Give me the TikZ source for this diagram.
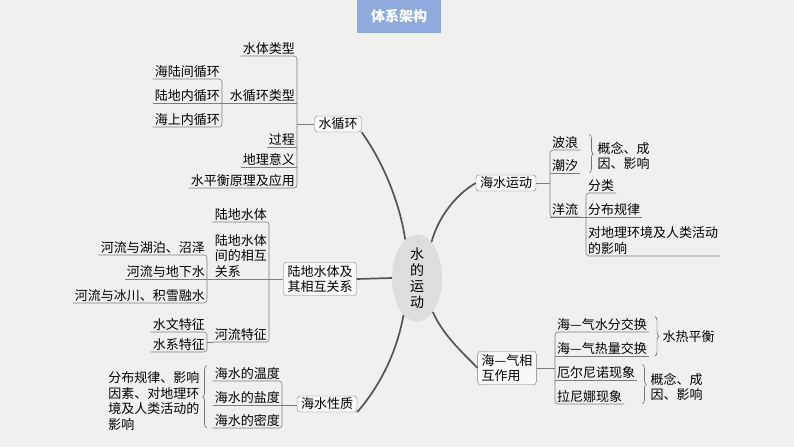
\documentclass[tikz,border=0pt]{standalone}
\usepackage{fontspec}
\newfontfamily\cjk{Noto Sans CJK SC}
\usetikzlibrary{shapes.geometric,decorations.pathreplacing}
\definecolor{bgcol}{RGB}{240,240,238}
\definecolor{linecol}{RGB}{125,125,125}
\definecolor{trunkcol}{RGB}{85,85,85}
\definecolor{titlecol}{RGB}{143,170,220}
\definecolor{corecol}{RGB}{221,221,221}
\begin{document}
\begin{tikzpicture}[x=1pt,y=-1pt,
  every node/.style={font=\cjk\fontsize{13}{15.5}\selectfont},
  lt/.style={anchor=south east,inner xsep=2pt,inner ysep=1.5pt},
  rt/.style={anchor=south west,inner xsep=2pt,inner ysep=1.5pt},
  topic/.style={draw=linecol,fill=white!50!bgcol,rounded corners=3pt,inner xsep=4pt,inner ysep=2pt,align=left},
  link/.style={draw=linecol,line width=0.6pt},
  trunk/.style={draw=trunkcol,line width=1.7pt},
  curly/.style={draw=black!80,decorate,decoration={brace,amplitude=4pt}}]
\fill[bgcol] (0,0) rectangle (794,447);
\useasboundingbox (0,0) rectangle (794,447);
\node[fill=titlecol,text=white,minimum width=84pt,minimum height=33pt,font=\cjk\bfseries\fontsize{14}{16}\selectfont] (title) at (399,16.5) {体系架构};

\node[ellipse,fill=corecol,inner sep=0pt,minimum width=50pt,minimum height=87pt,align=center,font=\cjk\fontsize{14}{16}\selectfont] (core) at (417,278) {水\\的\\运\\动};
\node[topic] (wc) at (338,124) {水循环};
\node[topic,inner ysep=3pt] (ld) at (320,279) {陆地水体及\\其相互关系};
\node[topic] (hx) at (327,404) {海水性质};
\node[topic] (hy) at (506,183) {海水运动};
\node[topic,inner ysep=3pt] (hq) at (507,368) {海—气相\\互作用};
\draw[trunk] (wc.south east) .. controls (385,165) and (400,205) .. (core.107);
\draw[trunk] (ld.east) -- (core.west);
\draw[trunk] (hx.south east) .. controls (385,380) and (398,345) .. (core.250);
\draw[trunk] (hy.west) .. controls (455,195) and (438,218) .. (core.68);
\draw[trunk] (core.295) .. controls (443,335) and (462,352) .. (hq.west);

% 水循环
\node[lt] (wc1) at (297,56) {水体类型};
\node[lt] (wc2) at (297,103) {水循环类型};
\node[lt] (wc3) at (297,147) {过程};
\node[lt] (wc4) at (297,167) {地理意义};
\node[lt] (wc5) at (297,188) {水平衡原理及应用};
\draw[link,rounded corners=3pt] (wc1.south west) -- (wc1.south east) -- (wc5.south east) -- (wc5.south west);
\draw[link] (wc3.south west) -- (wc3.south east);
\draw[link] (wc4.south west) -- (wc4.south east);
\draw[link] (wc.west) -- (wc.west -| wc1.south east);
\node[lt] (wc21) at (222,79) {海陆间循环};
\node[lt] (wc22) at (222,103) {陆地内循环};
\node[lt] (wc23) at (222,127) {海上内循环};
\draw[link,rounded corners=3pt] (wc21.south west) -- (wc21.south east) -- (wc23.south east) -- (wc23.south west);
\draw[link] (wc22.south west) -- (wc2.south east);

% 陆地水体
\node[lt] (ld1) at (269,222) {陆地水体};
\node[lt,align=left] (ld2) at (269,279) {陆地水体\\间的相互\\关系};
\node[lt] (ld3) at (269,342) {河流特征};
\draw[link,rounded corners=3pt] (ld1.south west) -- (ld1.south east) -- (ld3.south east) -- (ld3.south west);
\node[lt] (ld21) at (207,255) {河流与湖泊、沼泽};
\node[lt] (ld22) at (207,279) {河流与地下水};
\node[lt] (ld23) at (207,303) {河流与冰川、积雪融水};
\draw[link,rounded corners=3pt] (ld21.south west) -- (ld21.south east) -- (ld23.south east) -- (ld23.south west);
\draw[link] (ld22.south west) -- (ld.west);
\node[lt] (ld31) at (207,332) {水文特征};
\node[lt] (ld32) at (207,352) {水系特征};
\draw[link,rounded corners=3pt] (ld31.south west) -- (ld31.south east) -- (ld32.south east) -- (ld32.south west);
\draw[link] (ld31.south east |- ld3.south) -- (ld3.south west);

% 海水性质
\node[lt] (hx1) at (282,381) {海水的温度};
\node[lt] (hx2) at (282,405) {海水的盐度};
\node[lt] (hx3) at (282,428) {海水的密度};
\draw[link,rounded corners=3pt] (hx1.south west) -- (hx1.south east) -- (hx3.south east) -- (hx3.south west);
\draw[link] (hx2.south west) -- (hx.west |- hx2.south);
\draw[curly] ([xshift=-6pt]hx3.south west) -- ([xshift=-6pt]hx1.north west);
\node[anchor=east,align=left] (hxn) at (203,401) {分布规律、影响\\因素、对地理环\\境及人类活动的\\影响};

% 海水运动
\node[rt] (hy1) at (550,150) {波浪};
\node[rt] (hy2) at (550,173) {潮汐};
\node[rt] (hy3) at (550,217) {洋流};
\draw[link,rounded corners=3pt] (hy1.south east) -- (hy1.south west) -- (hy3.south west) -- (hy3.south east);
\draw[link] (hy2.south west) -- (hy2.south east);
\draw[link] (hy.east) -- (hy.east -| hy1.south west);
\draw[curly] ([xshift=9pt]hy1.north east) -- ([xshift=9pt]hy2.south east);
\node[anchor=west,align=left] (hyn) at (594,156) {概念、成\\因、影响};
\node[rt] (hy31) at (586,193) {分类};
\node[rt] (hy32) at (586,217) {分布规律};
\node[rt,align=left] (hy33) at (586,256) {对地理环境及人类活动\\的影响};
\draw[link,rounded corners=3pt] (hy31.south east) -- (hy31.south west) -- (hy33.south west) -- (hy33.south east);
\draw[link] (hy3.south west) -- (hy32.south east);

% 海—气相互作用
\node[rt] (hq1) at (555,332) {海—气水分交换};
\node[rt] (hq2) at (555,356) {海—气热量交换};
\node[rt] (hq3) at (555,380) {厄尔尼诺现象};
\node[rt] (hq4) at (555,404) {拉尼娜现象};
\draw[link,rounded corners=3pt] (hq1.south east) -- (hq1.south west) -- (hq4.south west) -- (hq4.south east);
\draw[link] (hq2.south west) -- (hq2.south east);
\draw[link] (hq3.south west) -- (hq3.south east);
\draw[link] (hq.east) -- (hq.east -| hq1.south west);
\draw[curly] ([xshift=6pt]hq1.north east) -- ([xshift=6pt]hq2.south east);
\node[anchor=west] (hqn1) at (659,337) {水热平衡};
\draw[curly] ([xshift=5pt]hq3.north east) -- ([xshift=5pt]hq3.north east |- hq4.south);
\node[anchor=west,align=left] (hqn2) at (647,387) {概念、成\\因、影响};
\end{tikzpicture}
\end{document}
